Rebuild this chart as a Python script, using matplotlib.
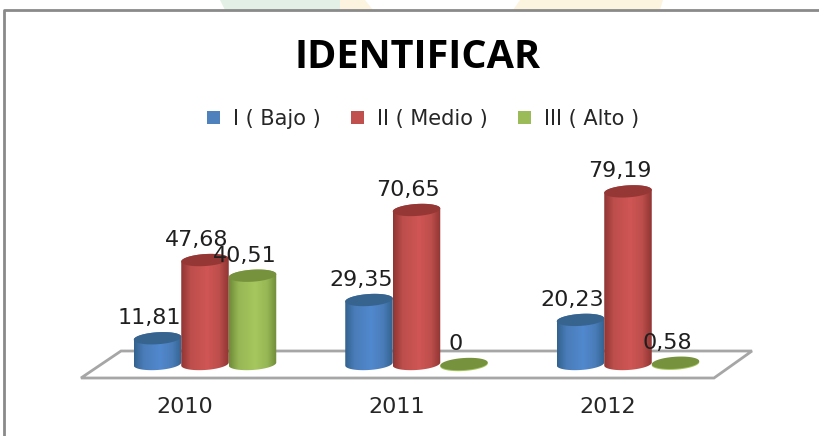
#!/usr/bin/env python3
# -*- coding: utf-8 -*-
import matplotlib
matplotlib.use('Agg')
import matplotlib.pyplot as plt
import numpy as np
from matplotlib.colors import LinearSegmentedColormap
from matplotlib.patches import Patch, Polygon

W, H = 820, 436

years = ['2010', '2011', '2012']
series = ['I ( Bajo )', 'II ( Medio )', 'III ( Alto )']
bajo = [11.81, 29.35, 20.23]
medio = [47.68, 70.65, 79.19]
alto = [40.51, 0, 0.58]
labels_bajo = ['11,81', '29,35', '20,23']
labels_medio = ['47,68', '70,65', '79,19']
labels_alto = ['40,51', '0', '0,58']

base_colors = ['#4f81bd', '#c0504d', '#9bbb59']
# edge, mid, highlight for the cylinder shading
shades = [('#33628f', '#4a7cb8', '#5189cf'),
          ('#8f3533', '#bd4e4b', '#cf5654'),
          ('#6f8b37', '#97b755', '#a6c65e')]
cap_colors = ['#37648f', '#953735', '#76923c']

PX_X = 211.5   # pixels per category
PX_Y = 2.18    # pixels per value unit
X0, Y0 = 205, 364  # pixel position of 2010 / value 0
bar_w = 47.5 / PX_X
cap_h = 12 / PX_Y
tilt = 1.5 / PX_Y  # caps lean up to the right


def figxy(x, y):
    return x / W, 1 - y / H


fig = plt.figure(figsize=(W / 100, H / 100), dpi=100)
ax = fig.add_axes([0, 0, 1, 1])
ax.set_xlim(-X0 / PX_X, (W - X0) / PX_X)
ax.set_ylim((Y0 - H) / PX_Y, Y0 / PX_Y)
ax.axis('off')

# faint page background above the chart frame
for top, bottom, col in [((220, 340), (225, 340), '#e2f0e6'),
                         ((340, 365), (340, 373), '#fdf4e0'),
                         ((520, 663), (513, 660), '#fdf4e0')]:
    fig.add_artist(Polygon([figxy(top[0], 0), figxy(bottom[0], 10), figxy(bottom[1], 10), figxy(top[1], 0)],
                           closed=True, fc=col, ec='none', transform=fig.transFigure))

# chart frame (left and top only are visible)
fig.add_artist(plt.Line2D([4 / W, 4 / W, 1], [0, 1 - 10 / H, 1 - 10 / H], color='#8a8a8a', lw=2,
                          transform=fig.transFigure))

# floor
ax.add_patch(Polygon([figxy(81, 378), figxy(121, 351), figxy(752, 351), figxy(714, 378)], closed=True,
                     fc='white', ec='#a6a6a6', lw=2, transform=fig.transFigure))


def ring(xc, y, t):
    return xc + bar_w / 2 * np.cos(t), y + cap_h / 2 * np.sin(t) + tilt * np.cos(t)


def cylinder(ax, xc, val, shade, cap, z):
    left, right = xc - bar_w / 2, xc + bar_w / 2
    if val > 1:
        cmap = LinearSegmentedColormap.from_list('c', [(0, shade[0]), (0.2, shade[1]), (0.55, shade[2]),
                                                       (0.8, shade[1]), (1, shade[0])])
        img = ax.imshow(np.linspace(0, 1, 128).reshape(1, -1), cmap=cmap, aspect='auto', zorder=z,
                        extent=(left, right, -cap_h, val + cap_h))
        # body = side walls + bottom half of the base ring
        bx, by = ring(xc, 0, np.linspace(np.pi, 2 * np.pi, 40))
        tx, ty = ring(xc, val, np.linspace(0, np.pi, 40))
        clip = Polygon(list(zip(np.r_[bx, tx], np.r_[by, ty])), closed=True, transform=ax.transData)
        img.set_clip_path(clip)
    else:
        # flat bars show a thin lighter rim under the cap
        ux, uy = ring(xc, val - 1 / PX_Y, np.linspace(0, 2 * np.pi, 60))
        ax.fill(ux, uy, color=shade[2], lw=0, zorder=z)
    cx, cy = ring(xc, val, np.linspace(0, 2 * np.pi, 60))
    ax.fill(cx, cy, color=cap, lw=0, zorder=z + 0.1)


offsets = [-bar_w, 0, bar_w]
all_vals = [bajo, medio, alto]
all_labels = [labels_bajo, labels_medio, labels_alto]

for i in range(len(years)):
    for j in range(3):
        cylinder(ax, i + offsets[j], all_vals[j][i], shades[j], cap_colors[j], 3 + j)

for i in range(len(years)):
    for j in range(3):
        ax.annotate(all_labels[j][i], (i + offsets[j], all_vals[j][i]), xytext=(-8, 20),
                    textcoords='offset pixels', ha='center', va='center', fontsize=16,
                    color='#1f1f1f', zorder=8)
    ax.text(i - 0.095, (Y0 - 407) / PX_Y, years[i], ha='center', va='center', fontsize=16, color='#262626')

ax.set_xlim(-X0 / PX_X, (W - X0) / PX_X)
ax.set_ylim((Y0 - H) / PX_Y, Y0 / PX_Y)

fig.text(418 / W, 1 - 57 / H, 'IDENTIFICAR', ha='center', va='center', fontsize=28.5,
         fontweight='bold', family='Open Sans', color='black')

handles = [Patch(fc=c, ec='none', label=s) for c, s in zip(base_colors, series)]
fig.legend(handles=handles, loc='center', bbox_to_anchor=(423 / W, 1 - 119 / H), ncol=3, frameon=False,
           fontsize=15, handlelength=0.62, handleheight=0.62, handletextpad=0.62, columnspacing=1.45,
           labelcolor='#262626', borderpad=0, borderaxespad=0)

fig.savefig('out.png', dpi=100)
